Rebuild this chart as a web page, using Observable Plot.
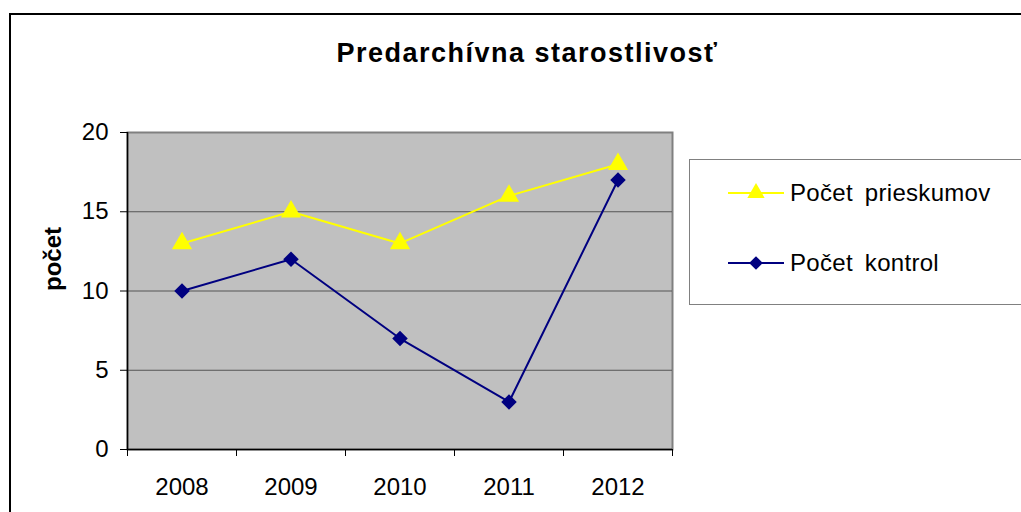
<!DOCTYPE html>
<html><head><meta charset="utf-8">
<script src="https://cdn.jsdelivr.net/npm/d3@7"></script>
<script src="https://cdn.jsdelivr.net/npm/@observablehq/plot@0.6"></script>
<style>
body{margin:0;background:#fff;font-family:"Liberation Sans",Arial,sans-serif;}
#wrap{position:relative;width:1021px;height:512px;overflow:hidden;}
#border{position:absolute;left:9px;top:13px;width:1040px;height:540px;border:2px solid #000;box-sizing:border-box;}
#title{position:absolute;left:0;width:1055px;top:39px;line-height:28px;text-align:center;font-weight:bold;font-size:27px;letter-spacing:1.5px;}
#chart{position:absolute;left:0;top:0;}
#legend{position:absolute;left:689px;top:159px;width:400px;height:146px;border:1.5px solid #808080;box-sizing:border-box;background:#fff;}
.item{position:absolute;left:38px;height:30px;display:flex;align-items:center;font-size:24px;word-spacing:5px;letter-spacing:0.3px;}
.item svg{margin-right:6px;}
</style></head>
<body>
<div id="wrap">
<div id="border"></div>
<div id="title"></div>
<div id="chart"></div>
<div id="legend"></div>
</div>
<script>
const titleText = "Predarchívna starostlivosť";
const yLabel = "počet";
const years = ["2008","2009","2010","2011","2012"];
const prieskumov = [13,15,13,16,18];
const kontrol = [10,12,7,3,17];
const seriesNames = ["Počet prieskumov","Počet kontrol"];
const yTicks = [0,5,10,15,20];

document.getElementById("title").textContent = titleText;

const data = [];
years.forEach((y,i)=>{
  data.push({i, year:y, value:prieskumov[i], s:seriesNames[0]});
  data.push({i, year:y, value:kontrol[i], s:seriesNames[1]});
});
const idx = years.map((_,i)=>i);
const bounds = d3.range(years.length+1).map(i=>i-0.5);

const chart = Plot.plot({
  width:1021, height:512,
  marginLeft:127, marginRight:349, marginTop:132, marginBottom:63,
  style:{fontFamily:"'Liberation Sans', Arial, sans-serif", fontSize:"24px", color:"#000", background:"transparent"},
  x:{type:"linear", domain:[-0.5, years.length-0.5]},
  y:{domain:[0,20]},
  marks:[
    Plot.frame({fill:"#C0C0C0", stroke:"#808080", strokeWidth:2}),
    Plot.gridY([5,10,15], {stroke:"#555", strokeOpacity:1, strokeWidth:1.2}),
    Plot.axisY(yTicks, {tickSize:7, tickPadding:12, stroke:"#000", fontSize:24, label:null}),
    Plot.axisX(bounds, {tickSize:7, tickFormat:()=>"", stroke:"#000", label:null}),
    Plot.axisX(idx, {tickSize:0, tickPadding:28, tickFormat:i=>years[i], fontSize:24, letterSpacing:0.8, label:null}),
    Plot.ruleY([0], {stroke:"#000", strokeWidth:1.5}),
    Plot.ruleX([-0.5], {stroke:"#000", strokeWidth:1.5}),
    Plot.text([yLabel], {frameAnchor:"left", dx:-74, rotate:-90, fontWeight:"bold", fontSize:24, text:d=>d}),
    Plot.line(data.filter(d=>d.s===seriesNames[0]), {x:"i", y:"value", stroke:"#FFFF00", strokeWidth:2}),
    Plot.line(data.filter(d=>d.s===seriesNames[1]), {x:"i", y:"value", stroke:"#000080", strokeWidth:2}),
    Plot.dot(data.filter(d=>d.s===seriesNames[0]), {x:"i", y:"value", symbol:"triangle", r:7.5, fill:"#FFFF00"}),
    Plot.dot(data.filter(d=>d.s===seriesNames[1]), {x:"i", y:"value", symbol:"diamond2", r:7, fill:"#000080"})
  ]
});
document.getElementById("chart").appendChild(chart);

// legend
const leg = document.getElementById("legend");
const legColors = ["#FFFF00","#000080"];
const legSymbols = ["triangle","diamond2"];
const legTops = [18,88];
seriesNames.forEach((name,k)=>{
  const div = document.createElement("div");
  div.className = "item";
  div.style.top = legTops[k]+"px";
  const svg = d3.create("svg").attr("width",56).attr("height",30);
  svg.append("line").attr("x1",0).attr("x2",56).attr("y1",15).attr("y2",15).attr("stroke",legColors[k]).attr("stroke-width",2);
  svg.append("path").attr("d", d3.symbol(legSymbols[k]==="triangle"?d3.symbolTriangle:d3.symbolDiamond2, legSymbols[k]==="triangle"?130:120)())
    .attr("transform","translate(28,15)").attr("fill",legColors[k]);
  div.appendChild(svg.node());
  const sp = document.createElement("span");
  sp.textContent = name;
  div.appendChild(sp);
  leg.appendChild(div);
});
</script>
</body></html>
